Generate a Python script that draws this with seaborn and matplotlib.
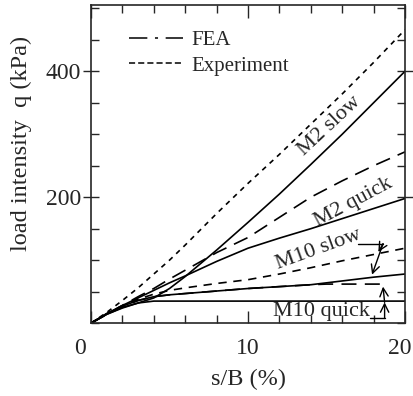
import numpy as np
import pandas as pd
import seaborn as sns
import matplotlib.pyplot as plt
from matplotlib.lines import Line2D
from matplotlib.ticker import MultipleLocator
from matplotlib.transforms import ScaledTranslation

# s/B (%) sample points
sB = [0, 1, 2, 3, 4, 5, 6, 8, 10, 12, 14, 16, 18, 20]

m2_slow_exp = [0, 17, 36, 56, 78, 100, 124, 174, 222, 268, 316, 364, 414, 466]
m2_slow_fea = [0, 14, 24, 32, 40, 55, 74, 116, 160, 205, 252, 300, 350, 400]
m2_quick_exp = [0, 14, 28, 42, 55, 70, 84, 112, 136, 168, 200, 226, 250, 272]
m2_quick_fea = [0, 15, 28, 40, 52, 64, 75, 98, 119, 135, 150, 166, 182, 198]
m10_slow_exp = [0, 15, 28, 38, 46, 52, 56, 63, 69, 78, 88, 99, 109, 119]
m10_slow_fea = [0, 15, 27, 36, 42, 45, 47, 51, 55, 58, 61, 67, 73, 78]
m10_quick_fea = [0, 14, 25, 32, 35, 35, 35, 35, 35, 35, 35, 35, 35, 35]

sB_m10q = [0, 1, 2, 3, 4, 5, 6, 8, 10, 12, 14, 15, 16, 18, 18.6]
m10_quick_exp = [0, 14, 26, 36, 42, 45, 47, 51, 55, 58, 61, 62, 62, 62, 62]

x_ticks = [0, 10, 20]
y_ticks = [200, 400]

sns.set_style("ticks")
plt.rcParams['font.family'] = ['Liberation Serif', 'DejaVu Serif']
plt.rcParams['font.size'] = 15

fig = plt.figure(figsize=(4.14, 3.96), dpi=100)
ax = fig.add_axes([0.2198, 0.184, 0.7585, 0.803])

short_dash = (0, (3, 3))
long_dash = (0, (9, 5))
mid_dash = (0, (5, 4))
solid = '-'

series = [
    (sB, m2_slow_exp, short_dash),
    (sB, m2_slow_fea, solid),
    (sB, m2_quick_exp, long_dash),
    (sB, m2_quick_fea, solid),
    (sB, m10_slow_exp, mid_dash),
    (sB, m10_slow_fea, solid),
    (sB, m10_quick_fea, solid),
    (sB_m10q, m10_quick_exp, long_dash),
]
for xs, ys, ls in series:
    sns.lineplot(x=xs, y=ys, ax=ax, color='black', lw=1.2, linestyle=ls)

ax.set_xlim(0, 20)
ax.set_ylim(0, 505)
ax.xaxis.set_minor_locator(MultipleLocator(2))
ax.yaxis.set_minor_locator(MultipleLocator(50))
ax.set_xticks(x_ticks)
ax.set_yticks(y_ticks)
ax.tick_params(which='both', direction='in', top=True, right=True, width=1)
ax.tick_params(which='major', length=9)
ax.tick_params(which='minor', length=6)
ax.tick_params(axis='y', which='major', direction='inout', length=12, pad=1, labelsize=17)
ax.tick_params(axis='x', which='major', pad=11, labelsize=17)
# nudge the end labels like the original ("0" sits left of the corner)
xt = ax.xaxis.get_major_ticks()
for tick, dx in [(xt[0], -11), (xt[2], -5)]:
    lab = tick.label1
    lab.set_transform(lab.get_transform() + ScaledTranslation(dx / 100, 0, fig.dpi_scale_trans))
for sp in ax.spines.values():
    sp.set_linewidth(1.2)

ax.set_xlabel("s/B (%)", fontsize=17.5, labelpad=7)
ax.set_ylabel("load intensity  q (kPa)", fontsize=17.5)
ax.yaxis.set_label_coords(-0.188, 0.565)

# curve labels
ax.text(15.2, 313, "M2 slow", rotation=43, ha='center', va='center', fontsize=16)
ax.text(16.7, 192, "M2 quick", rotation=28, ha='center', va='center', fontsize=16)
ax.text(14.5, 117, "M10 slow", rotation=20, ha='center', va='center', fontsize=16)
ax.text(14.7, 18, "M10 quick", ha='center', va='center', fontsize=16)

# leader lines
arrow = dict(arrowstyle='->', color='black', lw=1, shrinkA=0, shrinkB=0)
ax.plot([17.0, 18.6], [126, 126], color='black', lw=1)
ax.annotate('', xy=(17.9, 77), xytext=(18.6, 126), arrowprops=arrow)
ax.annotate('', xy=(18.3, 113), xytext=(18.6, 126), arrowprops=arrow)
ax.plot([17.8, 18.7], [8, 8], color='black', lw=1)
ax.annotate('', xy=(18.7, 33), xytext=(18.7, 8), arrowprops=arrow)
ax.annotate('', xy=(18.6, 58), xytext=(18.7, 33), arrowprops=arrow)

handles = [Line2D([], [], color='black', lw=1.1, linestyle=(0, (12, 5, 2, 5))),
           Line2D([], [], color='black', lw=1.1, linestyle=(0, (4, 2)))]
ax.legend(handles, ["FEA", "Experiment"], loc='upper left', frameon=False,
          fontsize=15, handlelength=2.6, handletextpad=0.4, labelspacing=0.3,
          bbox_to_anchor=(0.06, 0.98))

fig.savefig("out.png", dpi=100)
